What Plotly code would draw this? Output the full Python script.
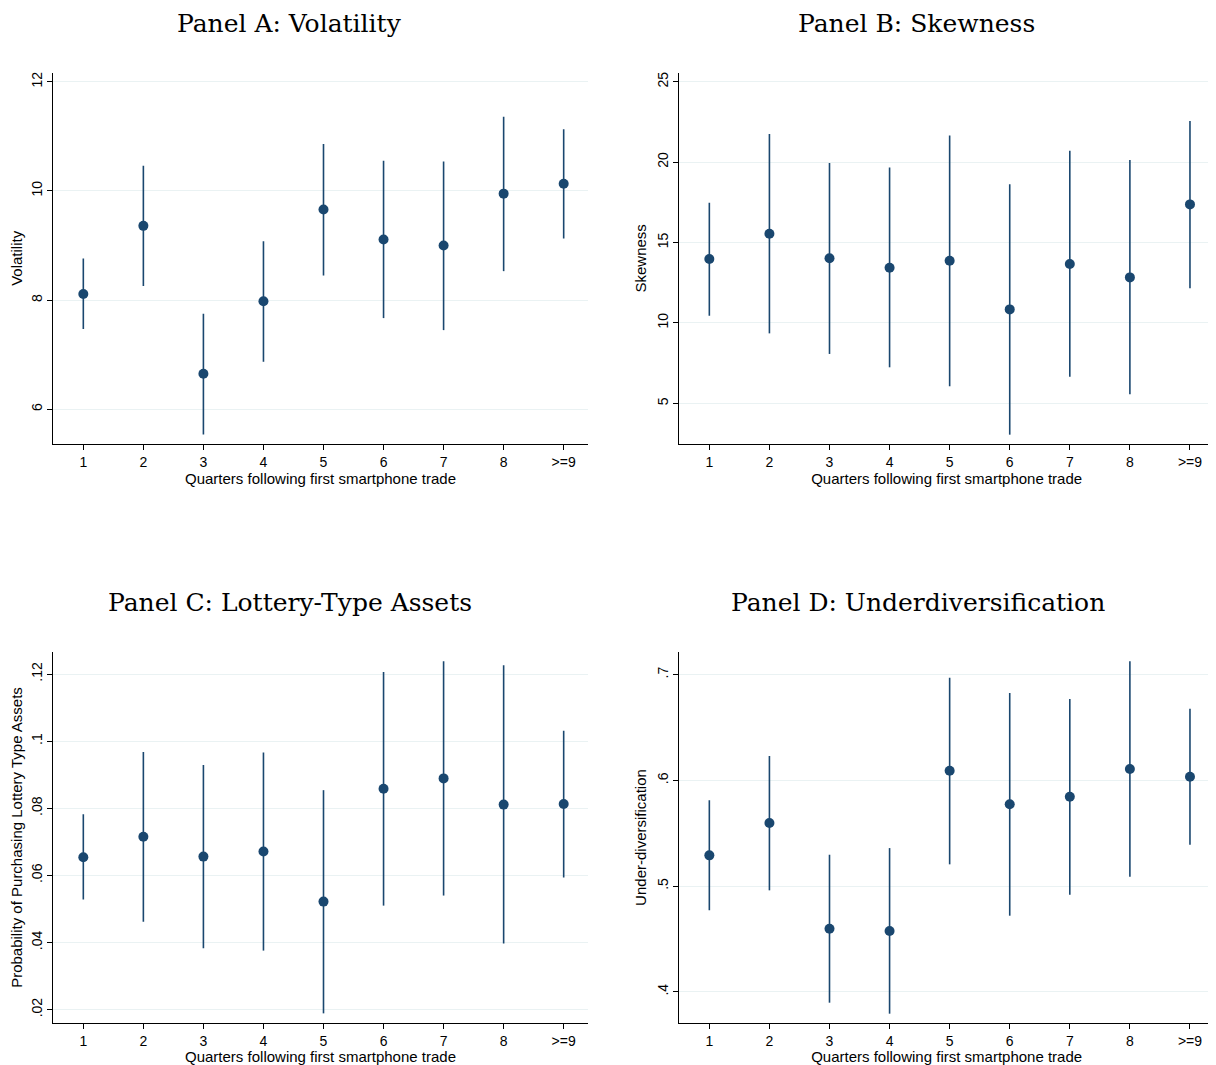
import plotly.graph_objects as go

# ---------------- data ----------------
quarters = [1, 2, 3, 4, 5, 6, 7, 8, 9]
quarter_labels = ["1", "2", "3", "4", "5", "6", "7", "8", ">=9"]

vol_est = [8.11, 9.36, 6.65, 7.98, 9.66, 9.11, 9.00, 9.95, 10.13]
vol_hi = [8.76, 10.46, 7.75, 9.08, 10.86, 10.55, 10.54, 11.36, 11.13]
vol_lo = [7.47, 8.26, 5.54, 6.87, 8.45, 7.67, 7.45, 8.53, 9.13]

skew_est = [13.97, 15.55, 14.02, 13.43, 13.87, 10.84, 13.66, 12.83, 17.37]
skew_hi = [17.48, 21.75, 19.94, 19.67, 21.66, 18.62, 20.71, 20.13, 22.56]
skew_lo = [10.45, 9.35, 8.07, 7.24, 6.06, 3.05, 6.65, 5.56, 12.15]

lot_est = [0.0654, 0.0715, 0.0656, 0.0671, 0.0522, 0.0858, 0.0889, 0.0811, 0.0813]
lot_hi = [0.0782, 0.0968, 0.0929, 0.0966, 0.0854, 0.1206, 0.1238, 0.1226, 0.1031]
lot_lo = [0.0528, 0.0462, 0.0383, 0.0376, 0.0189, 0.0510, 0.0540, 0.0397, 0.0594]

und_est = [0.5291, 0.5597, 0.4597, 0.4575, 0.6092, 0.5774, 0.5846, 0.6108, 0.6035]
und_hi = [0.5812, 0.6231, 0.5297, 0.5360, 0.6972, 0.6827, 0.6770, 0.7127, 0.6678]
und_lo = [0.4771, 0.4960, 0.3897, 0.3793, 0.5206, 0.4720, 0.4919, 0.5089, 0.5392]

panel_titles = ["Panel A: Volatility", "Panel B: Skewness",
                "Panel C: Lottery-Type Assets", "Panel D: Underdiversification"]
y_titles = ["Volatility", "Skewness",
            "Probability of Purchasing Lottery Type Assets", "Under-diversification"]
x_title = "Quarters following first smartphone trade"

vol_ticks = [6, 8, 10, 12]
vol_ticklabels = ["6", "8", "10", "12"]
skew_ticks = [5, 10, 15, 20, 25]
skew_ticklabels = ["5", "10", "15", "20", "25"]
lot_ticks = [0.02, 0.04, 0.06, 0.08, 0.10, 0.12]
lot_ticklabels = [".02", ".04", ".06", ".08", ".1", ".12"]
und_ticks = [0.4, 0.5, 0.6, 0.7]
und_ticklabels = [".4", ".5", ".6", ".7"]

# ---------------- styling ----------------
OFF = 8  # default page margin of the browser
W, H = 1216 - OFF, 1065 - OFF
NAVY = "#1a476f"
GRID = "#eaf2f3"
SANS = "Liberation Sans, Arial, sans-serif"
SERIF = "DejaVu Serif, Liberation Serif, serif"
TICK_FS = 14
TITLE_FS = 15

panels = [
    (vol_est, vol_hi, vol_lo, vol_ticks, vol_ticklabels, [5.364, 12.165]),
    (skew_est, skew_hi, skew_lo, skew_ticks, skew_ticklabels, [2.47, 25.56]),
    (lot_est, lot_hi, lot_lo, lot_ticks, lot_ticklabels, [0.01594, 0.12665]),
    (und_est, und_hi, und_lo, und_ticks, und_ticklabels, [0.3702, 0.7218]),
]

# plot-area positions in screen pixels (left, right, top, bottom)
boxes = [
    (53.3, 587.7, 72.7, 444.0),
    (679.3, 1214.0, 72.7, 444.0),
    (53.3, 587.7, 651.7, 1023.3),
    (679.3, 1214.0, 651.7, 1023.3),
]
title_pos = [(289, 23.5), (916, 23.5), (290, 602), (918, 602)]


def px(v):
    return v - OFF


fig = go.Figure()
layout = dict(
    width=W, height=H,
    margin=dict(l=0, r=0, t=0, b=0),
    paper_bgcolor="white", plot_bgcolor="white",
    showlegend=False,
    annotations=[],
)

for i, (est, hi, lo, ticks, ticklabels, yr) in enumerate(panels):
    n = "" if i == 0 else str(i + 1)
    up = [h - e for h, e in zip(hi, est)]
    dn = [e - l for e, l in zip(est, lo)]
    fig.add_trace(go.Scatter(
        x=quarters, y=est, mode="markers",
        marker=dict(color=NAVY, size=10),
        error_y=dict(type="data", symmetric=False, array=up, arrayminus=dn,
                     color=NAVY, thickness=1.6, width=0),
        xaxis="x" + n, yaxis="y" + n,
    ))
    l, r, t, b = boxes[i]
    layout["xaxis" + n] = dict(
        domain=[px(l) / W, min(px(r) / W, 1.0)], anchor="y" + n,
        range=[0.5, 9.4], tickmode="array", tickvals=quarters, ticktext=quarter_labels,
        showline=True, linecolor="#000000", linewidth=1.2, mirror=False,
        ticks="outside", ticklen=5, tickwidth=1, tickcolor="#000000",
        showgrid=False, zeroline=False,
        tickfont=dict(family=SANS, size=TICK_FS, color="#000000"),
        title=dict(text=x_title, font=dict(family=SANS, size=TITLE_FS, color="#000000"), standoff=1),
    )
    layout["yaxis" + n] = dict(
        domain=[1 - px(b) / H, 1 - px(t) / H], anchor="x" + n,
        range=yr, tickmode="array", tickvals=ticks, ticktext=ticklabels,
        tickangle=-90,
        showline=True, linecolor="#000000", linewidth=1.2, mirror=False,
        ticks="outside", ticklen=5, tickwidth=1, tickcolor="#000000",
        showgrid=True, gridcolor=GRID, gridwidth=1.2, zeroline=False,
        tickfont=dict(family=SANS, size=TICK_FS, color="#000000"),
        title=dict(text=y_titles[i], font=dict(family=SANS, size=TITLE_FS, color="#000000"), standoff=4),
    )
    tx, ty = title_pos[i]
    layout["annotations"].append(dict(
        text=panel_titles[i], x=px(tx) / W, y=1 - px(ty) / H, xref="paper", yref="paper",
        xanchor="center", yanchor="middle", showarrow=False,
        font=dict(family=SERIF, size=25, color="#000000"),
    ))

fig.update_layout(**layout)
fig.write_html("out.html")
